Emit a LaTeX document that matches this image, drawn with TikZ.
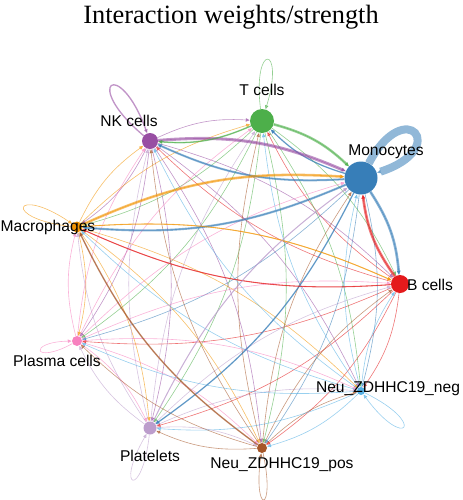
\documentclass[tikz,border=0pt]{standalone}
\usepackage{fontspec}
\setmainfont{Liberation Serif}
\setsansfont{Liberation Sans}
\usetikzlibrary{arrows.meta,backgrounds}

\definecolor{col-B}{HTML}{E41A1C}
\definecolor{col-Mono}{HTML}{377EB8}
\definecolor{col-T}{HTML}{4DAF4A}
\definecolor{col-NK}{HTML}{984EA3}
\definecolor{col-Mac}{HTML}{F29403}
\definecolor{col-Plasma}{HTML}{F781BF}
\definecolor{col-Plt}{HTML}{BC9DCC}
\definecolor{col-NeuP}{HTML}{A65628}
\definecolor{col-NeuN}{HTML}{54B0E4}

\begin{document}
\begin{tikzpicture}[x=0.75pt,y=0.75pt,yscale=-1,xscale=1,
    cell/.style={circle,inner sep=0pt,draw=none},
    lab/.style={font=\sffamily\fontsize{11.7}{14}\selectfont,inner sep=0pt},
    link/.style={opacity=0.6,line width=0.45pt,-{Triangle[length=3pt,width=2.6pt]},bend right=14},
    selfloop/.style={opacity=0.6,line width=0.45pt,-{Triangle[length=3pt,width=2.6pt]}}]
\useasboundingbox (0,0) rectangle (462,500);

% Vertices
\node[cell,fill=col-B,minimum size=13.5pt] (B) at (400,284) {};
\node[cell,fill=col-Mono,minimum size=24.75pt] (Mono) at (361,178) {};
\node[cell,fill=col-T,minimum size=18pt] (T) at (262,121) {};
\node[cell,fill=col-NK,minimum size=12pt] (NK) at (150,141) {};
\node[cell,fill=col-Mac,minimum size=8.25pt] (Mac) at (77,227) {};
\node[cell,fill=col-Plasma,minimum size=7.5pt] (Plasma) at (77,341) {};
\node[cell,fill=col-Plt,minimum size=9.75pt] (Plt) at (150,428) {};
\node[cell,fill=col-NeuP,minimum size=7.5pt] (NeuP) at (262,448) {};
\node[cell,fill=col-NeuN,minimum size=6pt] (NeuN) at (361,391) {};

\begin{scope}[on background layer]
% weak links, coloured by sender
\foreach \s in {B,Mono,T,NK,Mac,Plasma,Plt,NeuP,NeuN}
  \foreach \t in {B,Mono,T,NK,Mac,Plasma,Plt,NeuP,NeuN}{
    \ifx\s\t\else
      \draw[link,col-\s] (\s) to (\t);
    \fi}
% strong links
\foreach \s/\t/\w in {Mono/Mac/1.6,Mono/NK/1.5,Mono/B/2,Mono/Plt/1,Mono/T/1,
    NK/Mono/2.3,Mac/Mono/1.9,T/Mono/1.9,B/Mono/2,T/NK/1.1,NeuP/Mac/1.1,
    B/Mac/0.8,Mac/B/0.8,Plt/Mono/0.8}
  \draw[link,col-\s,line width=\w pt] (\s) to (\t);
% self loops
\draw[selfloop,col-Mono,line width=6pt,opacity=0.55] (Mono) .. controls +(-62:95) and +(-18:95) .. (Mono);
\draw[selfloop,col-T] (T) .. controls +(-97:80) and +(-73:80) .. (T);
\draw[selfloop,col-NK,line width=1pt] (NK) .. controls +(-140:90) and +(-110:90) .. (NK);
\draw[selfloop,col-Mac] (Mac) .. controls +(-174:76) and +(-146:76) .. (Mac);
\draw[selfloop,col-Plasma] (Plasma) .. controls +(-209:50) and +(-181:50) .. (Plasma);
\draw[selfloop,col-Plt] (Plt) .. controls +(-264:72) and +(-240:72) .. (Plt);
\draw[selfloop,col-NeuP] (NeuP) .. controls +(-282:68) and +(-262:68) .. (NeuP);
\draw[selfloop,col-NeuN] (NeuN) .. controls +(-334:75) and +(-306:75) .. (NeuN);
\end{scope}

% Text Node
\node[font=\fontsize{19.8}{24}\selectfont,anchor=base] (title) at (231,23) {Interaction weights/strength};
% Text Node
\node[lab] (lT) at (262,90) {T cells};
\node[lab] (lMono) at (386,152) {Monocytes};
\node[lab] (lNK) at (129,121) {NK cells};
\node[lab] (lMac) at (48,227) {Macrophages};
\node[lab] (lPlasma) at (57,361) {Plasma cells};
\node[lab] (lPlt) at (150,456) {Platelets};
\node[lab] (lNeuP) at (282,465) {Neu\_ZDHHC19\_pos};
\node[lab] (lNeuN) at (388,389) {Neu\_ZDHHC19\_neg};
\node[lab] (lB) at (430,285) {B cells};
\end{tikzpicture}
\end{document}
